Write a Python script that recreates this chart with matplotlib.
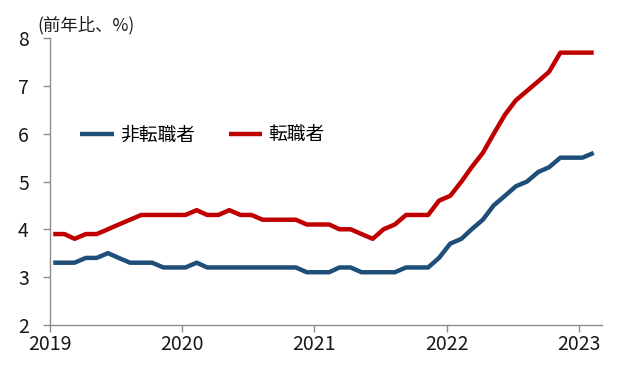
import matplotlib
matplotlib.use("Agg")
import matplotlib.pyplot as plt
import matplotlib.dates as mdates
import pandas as pd

plt.rcParams['font.family'] = ['Noto Sans CJK JP', 'DejaVu Sans']

# monthly, 2019-01 .. 2023-02 (%, y/y)
months = pd.date_range("2019-01-01", periods=50, freq="MS") + pd.Timedelta(days=10)

non_changer = [3.3, 3.3, 3.3, 3.4, 3.4, 3.5, 3.4, 3.3, 3.3, 3.3, 3.2, 3.2,
               3.2, 3.3, 3.2, 3.2, 3.2, 3.2, 3.2, 3.2, 3.2, 3.2, 3.2, 3.1,
               3.1, 3.1, 3.2, 3.2, 3.1, 3.1, 3.1, 3.1, 3.2, 3.2, 3.2, 3.4,
               3.7, 3.8, 4.0, 4.2, 4.5, 4.7, 4.9, 5.0, 5.2, 5.3, 5.5, 5.5,
               5.5, 5.6]
changer = [3.9, 3.9, 3.8, 3.9, 3.9, 4.0, 4.1, 4.2, 4.3, 4.3, 4.3, 4.3,
           4.3, 4.4, 4.3, 4.3, 4.4, 4.3, 4.3, 4.2, 4.2, 4.2, 4.2, 4.1,
           4.1, 4.1, 4.0, 4.0, 3.9, 3.8, 4.0, 4.1, 4.3, 4.3, 4.3, 4.6,
           4.7, 5.0, 5.3, 5.6, 6.0, 6.4, 6.7, 6.9, 7.1, 7.3, 7.7, 7.7,
           7.7, 7.7]

labels = ["非転職者", "転職者"]
colors = ["#1F4E79", "#C00000"]

fig = plt.figure(figsize=(6.2, 3.72), dpi=100)
ax = fig.add_axes([0.080, 0.127, 0.891, 0.770])

ax.plot(months, non_changer, color=colors[0], lw=3.2, label=labels[0],
        solid_capstyle="butt", solid_joinstyle="round")
ax.plot(months, changer, color=colors[1], lw=3.2, label=labels[1],
        solid_capstyle="butt", solid_joinstyle="round")

ax.set_ylim(2, 8)
ax.set_yticks(range(2, 9))
ax.set_xlim(pd.Timestamp("2019-01-01"), pd.Timestamp("2023-03-06"))
ax.xaxis.set_major_locator(mdates.YearLocator())
ax.xaxis.set_major_formatter(mdates.DateFormatter("%Y"))

for s in ["top", "right"]:
    ax.spines[s].set_visible(False)
for s in ["left", "bottom"]:
    ax.spines[s].set_color("#8c8c8c")
    ax.spines[s].set_linewidth(1.0)
ax.tick_params(axis="both", colors="#8c8c8c", length=5, width=1,
               labelcolor="#1a1a1a", labelsize=14)
ax.tick_params(axis="y", pad=10)
ax.tick_params(axis="x", pad=2)

fig.text(0.061, 0.932, "(前年比、%)", fontsize=12.5, color="#1a1a1a",
         va="center", ha="left")

ax.legend(loc="center left", bbox_to_anchor=(0.055, 0.663), ncol=2,
          frameon=False, borderaxespad=0, borderpad=0,
          fontsize=13.5, handlelength=1.8, handletextpad=0.33,
          columnspacing=1.8)

fig.savefig("out.png", dpi=100)
